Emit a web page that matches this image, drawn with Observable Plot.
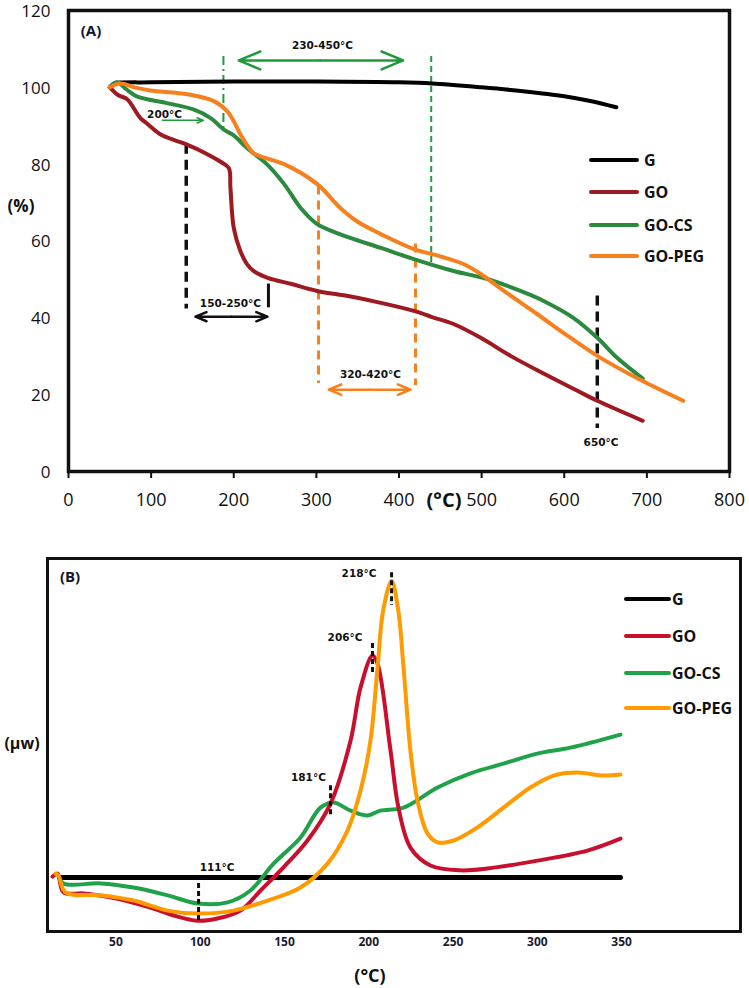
<!DOCTYPE html>
<html><head><meta charset="utf-8">
<script src="https://cdn.jsdelivr.net/npm/d3@7"></script>
<script src="https://cdn.jsdelivr.net/npm/@observablehq/plot@0.6"></script>
<style>
body{margin:0;background:#fff;font-family:"Open Sans",sans-serif}
#wrap{position:relative;width:749px;height:988px;overflow:hidden;background:#fff}
.panel{position:absolute;left:0}
.lab{position:absolute;font-weight:bold;white-space:nowrap;transform:translate(-50%,-50%);color:#111;line-height:1}
.leg{position:absolute;left:0;top:0}
</style></head><body><div id="wrap"></div>
<script>
// ---------- shared ----------
const series = ["G", "GO", "GO-CS", "GO-PEG"];
const colorsA = ["#000000", "#9e1a22", "#2b8a3e", "#f7801e"];
const colorsB = ["#000000", "#c8102e", "#1fa24a", "#ff9a00"];

// ---------- Panel A: TGA (temperature °C, mass %) ----------
const tgaG = [[50,100],[55,101],[60,101.2],[100,101.3],[200,101.5],[300,101.5],[400,101.3],[440,101],[500,100],[550,99],[600,97.7],[630,96.5],[663,94.8]];
const tgaGO = [[50,100],[60,98],[71,96.9],[87,92],[96,90.4],[111,87.8],[125,86.5],[142,85.2],[168,82.6],[185,80.5],[194,79],[196,73.8],[200,63.4],[208,57.4],[216,54],[224,52.2],[241,50.4],[270,48.8],[301,47],[340,45.6],[378,43.9],[418,41.8],[440,40.2],[466,38.4],[499,34.8],[535,30.1],[575,25.5],[616,21],[640,18.4],[695,13.2]];
const tgaGOCS = [[50,100],[59,101.3],[70,99.5],[82,97.7],[100,96.7],[119,95.9],[152,94.2],[172,92],[188,89],[200,87.5],[216,84.2],[240,80],[261,74.8],[281,68.6],[301,64.4],[320,62.5],[341,60.8],[378,58.2],[418,55.3],[466,52.2],[507,50.1],[547,47],[575,44.4],[611,40],[640,34.8],[664,29.6],[695,24.2]];
const tgaGOPEG = [[50,100],[63,101],[80,100],[99,99.2],[144,98.2],[176,96.4],[192,93.8],[200,91.2],[208,87.8],[216,85],[224,82.9],[240,81.5],[261,80],[301,74.8],[329,68.6],[350,65],[378,61.8],[418,57.9],[450,56],[478,54],[499,51.4],[527,47],[567,41],[599,36.1],[640,30.1],[689,24.2],[744,18.4]];
const tgaXTicks = [0,100,200,300,400,500,600,700,800];
const tgaYTicks = [0,20,40,60,80,100,120];

// annotation values (temperatures / levels)
const tgaBlackDashed = [{x:142.5, y1:85.2, y2:42.3}, {x:640, y1:45.7, y2:11.2}];
const tgaBlackSolid = [{x:242, y1:48.8, y2:42.6}];
const tgaGreenDashDot = [{x:187.5, y1:108, y2:88.6}];
const tgaGreenDashed = [{x:439, y1:108, y2:54.3}];
const tgaOrangeDashed = [{x:302.6, y1:74.3, y2:22.9}, {x:420, y1:59.2, y2:22.3}];
const tgaGreenRange = [{x1:305, x2:206, y:107}, {x1:305, x2:405, y:107}];
const tgaGreenSmall = [{x1:113.8, x2:163.4, y:91.4}];
const tgaBlackRange = [{x1:197, x2:153.7, y:40.3}, {x1:197, x2:240.8, y:40.3}];
const tgaOrangeRange = [{x1:364, x2:315, y:21.3}, {x1:364, x2:414, y:21.3}];
const tgaNotes = [
  {x:307.4, y:110.9, t:"230-450°C"},
  {x:116.2, y:93, t:"200°C"},
  {x:196, y:43.8, t:"150-250°C"},
  {x:365.5, y:25.2, t:"320-420°C"},
  {x:644.5, y:7.4, t:"650°C"}
];

// ---------- Panel B: DSC (temperature °C, heat flow, arbitrary) ----------
const dscG = [[16.6,14.5],[349.3,14.5]];
const dscGO = [[12.4,14.7],[15.4,15.5],[18.9,10.5],[30.8,10.2],[51,8.8],[70.5,6.4],[84.2,4.3],[98.4,2.9],[110.3,3.5],[123.9,5.6],[135.8,11],[149.4,17.2],[163.6,24.4],[177.3,34.3],[189.2,51.2],[195.1,65.4],[202.2,74],[205.2,71.8],[212.9,48.5],[217.6,33.2],[224.7,22.5],[236.6,17.7],[254.4,16.4],[270.4,16.9],[300,19],[329.7,21.7],[349.3,24.9]];
const dscGOCS = [[15.4,15.5],[18.9,12.9],[40.9,12.9],[60.5,11.8],[80.6,9.7],[98.4,7.5],[116.2,7.8],[129.8,11],[143.5,18.2],[159.5,25.2],[171.3,33.2],[179,34.6],[189.2,32.4],[199.2,31.1],[206.9,32.4],[220.6,33.2],[240.8,38.6],[260.3,42.4],[279.9,45],[300,47.7],[319.6,49.3],[349.3,52.8]];
const dscGOPEG = [[14.2,15.5],[15.9,15],[20.1,10.5],[40.9,9.7],[60.5,8.3],[80.6,5.6],[98.4,4.8],[119.8,5.6],[139.9,8.3],[159.5,11.8],[175.5,18.2],[187.4,27.1],[195.1,37.8],[201,51.2],[205.2,70.8],[208.5,86],[213.5,94],[217.5,86],[220.6,70.8],[224.7,48.5],[228.9,35.1],[234.8,26.3],[240.8,23.9],[250.3,24.4],[264.5,27.9],[279.9,33.2],[295.9,38.6],[309.6,41.8],[323.8,42.6],[339.2,41.8],[349.3,42.1]];
const dscXTicks = [50,100,150,200,250,300,350];
const dscMarks = [
  {x:213.5, y1:96.2, y2:87.4},
  {x:202.2, y1:77.2, y2:69.4},
  {x:177.3, y1:39.1, y2:31.1},
  {x:99, y1:12.9, y2:2.4}
];
const dscNotes = [
  {x:194.2, y:96, t:"218°C"},
  {x:185.9, y:78.7, t:"206°C"},
  {x:164.2, y:41.3, t:"181°C"},
  {x:110, y:17.2, t:"111°C"}
];

// ---------- build ----------
const wrap = document.getElementById("wrap");
const toRows = (arrs) => series.flatMap((s, i) => arrs[i].map(([t, v]) => ({s, t, v})));
const noteFont = "DejaVu Sans";
const green = "#1f9a3c", orange = "#f7801e", black = "#111";
const rule = (data, stroke, w, dash) => Plot.ruleX(data, {x: "x", y1: "y1", y2: "y2", stroke, strokeWidth: w, strokeDasharray: dash});
const arrow = (data, stroke, w, h) => Plot.arrow(data, {x1: "x1", x2: "x2", y1: "y", y2: "y", stroke, strokeWidth: w, headLength: h, headAngle: 45, bend: 0});

const plotA = Plot.plot({
  width: 749, height: 510,
  marginLeft: 68, marginRight: 20, marginTop: 10, marginBottom: 39,
  style: {fontFamily: "Open Sans", overflow: "visible", background: "transparent"},
  x: {domain: [0, 800]},
  y: {domain: [0, 120]},
  color: {domain: series, range: colorsA},
  marks: [
    rule(tgaBlackDashed, black, 3.5, "10,6"),
    rule(tgaBlackSolid, black, 3, null),
    rule(tgaGreenDashDot, green, 2, "9,4,2,4"),
    rule(tgaGreenDashed, green, 2, "6,4"),
    rule(tgaOrangeDashed, orange, 3, "9,6"),
    arrow(tgaGreenRange, green, 2.5, 14),
    arrow(tgaGreenSmall, green, 1.5, 7),
    arrow(tgaBlackRange, black, 2.5, 10),
    arrow(tgaOrangeRange, orange, 2.5, 10),
    Plot.text(tgaNotes, {x: "x", y: "y", text: "t", fontFamily: noteFont, fontWeight: "bold", fontSize: 10.5, fill: "#111"}),
    Plot.line(toRows([tgaG, tgaGO, tgaGOCS, tgaGOPEG]), {x: "t", y: "v", z: "s", stroke: "s", strokeWidth: 4, curve: "catmull-rom", strokeLinecap: "round"}),
    Plot.axisX({ticks: tgaXTicks, tickSize: 7, tickPadding: 15, fontSize: 18, label: null, stroke: "#111", strokeWidth: 2, fill: "#111"}),
    Plot.axisY({ticks: tgaYTicks, tickSize: 0, tickPadding: 18, fontSize: 17, dy: 1, label: null, fill: "#111"}),
    Plot.frame({stroke: "#111", strokeWidth: 3.5})
  ]
});
plotA.classList.add("panel"); plotA.style.top = "0px";
wrap.appendChild(plotA);

const plotB = Plot.plot({
  width: 749, height: 478,
  marginLeft: 47, marginRight: 9, marginTop: 48, marginBottom: 57,
  style: {fontFamily: "Open Sans", overflow: "visible", background: "transparent"},
  x: {domain: [9.4, 420.5], axis: null},
  y: {domain: [0, 100], axis: null},
  color: {domain: series, range: colorsB},
  marks: [
    Plot.line(toRows([dscG, [], [], []]), {x: "t", y: "v", z: "s", stroke: "s", strokeWidth: 5}),
    Plot.line(toRows([[], [], dscGOCS, []]), {x: "t", y: "v", z: "s", stroke: "s", strokeWidth: 4, curve: "catmull-rom"}),
    Plot.line(toRows([[], dscGO, [], []]), {x: "t", y: "v", z: "s", stroke: "s", strokeWidth: 4, curve: "catmull-rom"}),
    Plot.line(toRows([[], [], [], dscGOPEG]), {x: "t", y: "v", z: "s", stroke: "s", strokeWidth: 4, curve: "catmull-rom"}),
    rule(dscMarks, "#111", 3, "5,3"),
    Plot.text(dscNotes, {x: "x", y: "y", text: "t", fontFamily: noteFont, fontWeight: "bold", fontSize: 10.5, fill: "#111"}),
    Plot.axisX({ticks: dscXTicks, tickSize: 0, tickPadding: 6, fontSize: 12, fontWeight: "bold", label: null, fill: "#1b1b33"}),
    Plot.frame({stroke: "#111", strokeWidth: 3})
  ]
});
plotB.classList.add("panel"); plotB.style.top = "510px";
wrap.appendChild(plotB);

// ---------- text labels ----------
function label(txt, cx, cy, size, color) {
  const d = document.createElement("div");
  d.className = "lab"; d.textContent = txt;
  d.style.left = cx + "px"; d.style.top = cy + "px"; d.style.fontSize = size + "px";
  if (color) d.style.color = color;
  wrap.appendChild(d);
}
label("(A)", 91, 30, 15, "#14142a");
label("(%)", 21, 205, 17);
label("(°C)", 444, 500, 20);
label("(B)", 70, 576, 15, "#14142a");
label("(μw)", 22, 743, 16);
label("(°C)", 370, 975, 18);

// ---------- legends ----------
function legend(x0, x1, tx, ys, colors, size) {
  const svg = d3.select(wrap).append("svg").attr("class", "leg").attr("width", 749).attr("height", 988);
  series.forEach((s, i) => {
    svg.append("line").attr("x1", x0).attr("x2", x1).attr("y1", ys[i]).attr("y2", ys[i])
      .attr("stroke", colors[i]).attr("stroke-width", 4).attr("stroke-linecap", "round");
    svg.append("text").attr("x", tx).attr("y", ys[i]).attr("dy", "0.35em")
      .attr("font-family", "Open Sans").attr("font-weight", "bold").attr("font-size", size)
      .attr("fill", "#111").text(s);
  });
}
legend(591, 637, 644, [160, 192, 225, 256], colorsA, 16);
legend(626, 669, 672, [599, 636, 673, 708], colorsB, 16);
</script></body></html>
